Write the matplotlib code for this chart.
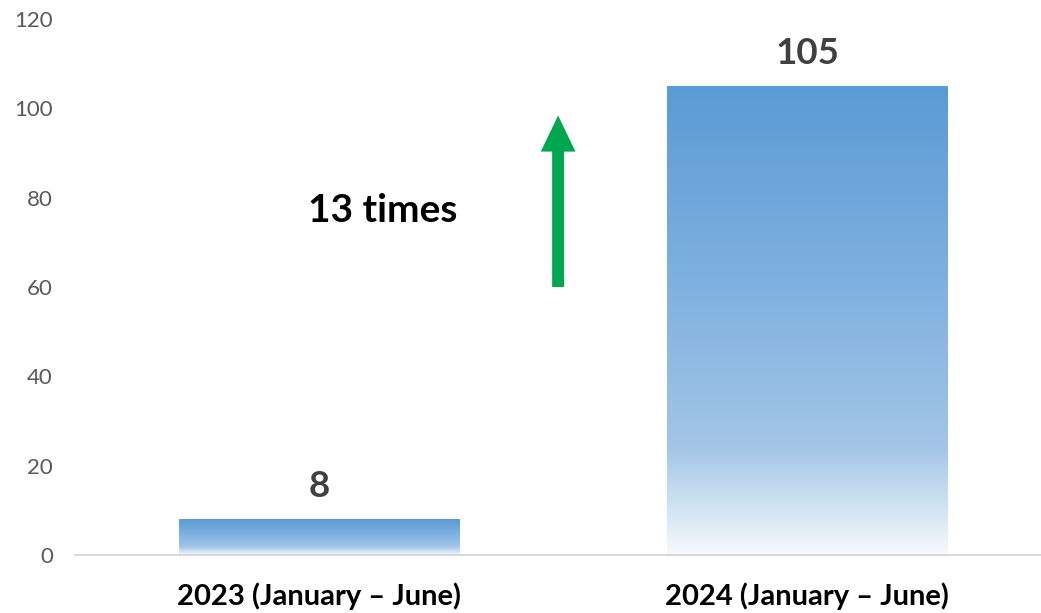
import matplotlib
matplotlib.use("Agg")
import matplotlib.pyplot as plt
import numpy as np
from matplotlib.colors import LinearSegmentedColormap

categories = ["2023 (January – June)", "2024 (January – June)"]
values = [8, 105]
yticks = [0, 20, 40, 60, 80, 100, 120]
annotation_text = "13 times"
arrow_from, arrow_to = 60, 98.4

W, H = 1041, 613
fig = plt.figure(figsize=(W / 100, H / 100), dpi=100)
left, right = 75, 1051
bottom, top = 58, 594
ax = fig.add_axes([left / W, bottom / H, (right - left) / W, (top - bottom) / H])
ax.set_xlim(-0.5, 1.5)
ax.set_ylim(0, 120)

cmap = LinearSegmentedColormap.from_list(
    "grad", [(0.0, "#F6FAFD"), (0.23, "#A3C5E8"), (0.6, "#7DB0DF"), (1.0, "#5B9BD5")])
grad = np.linspace(0, 1, 256).reshape(-1, 1)
bw = 0.574
bars = ax.bar(range(len(values)), values, width=bw, color="none", edgecolor="none")
for b, v in zip(bars, values):
    x0 = b.get_x()
    ax.imshow(grad, cmap=cmap, origin="lower", aspect="auto",
              extent=[x0, x0 + bw, 0, v], zorder=2, interpolation="bilinear")
    ax.annotate(str(v), xy=(b.get_x() + bw / 2, v), xytext=(0, 16),
                textcoords="offset points", ha="center", va="baseline",
                fontsize=26.5, fontweight="bold", color="#404040", family="Lato")
ax.set_xlim(-0.5, 1.5)
ax.set_ylim(0, 120)

ax.set_yticks(yticks)
ax.set_yticklabels([str(t) for t in yticks], fontsize=16, color="#595959", family="Lato")
ax.set_xticks(range(len(categories)))
ax.set_xticklabels(categories, fontsize=21, fontweight="bold", color="black", family="Lato")
ax.tick_params(axis="y", length=0, pad=16)
ax.tick_params(axis="x", length=0, pad=20)
for s in ["top", "right", "left"]:
    ax.spines[s].set_visible(False)
ax.spines["bottom"].set_color("#D9D9D9")
ax.spines["bottom"].set_linewidth(1.5)
ax.spines["bottom"].set_zorder(3)

ax.text(0.131, 77.1, annotation_text, ha="center", va="center",
        fontsize=28, fontweight="bold", color="black", family="Lato")
ax.annotate("", xy=(0.49, arrow_to), xytext=(0.49, arrow_from),
            arrowprops=dict(arrowstyle="simple,head_width=25,head_length=26,tail_width=8.6",
                            mutation_scale=1, color="#00A650", shrinkA=0, shrinkB=0, lw=0))

fig.savefig("out.png", dpi=100, facecolor="white")
